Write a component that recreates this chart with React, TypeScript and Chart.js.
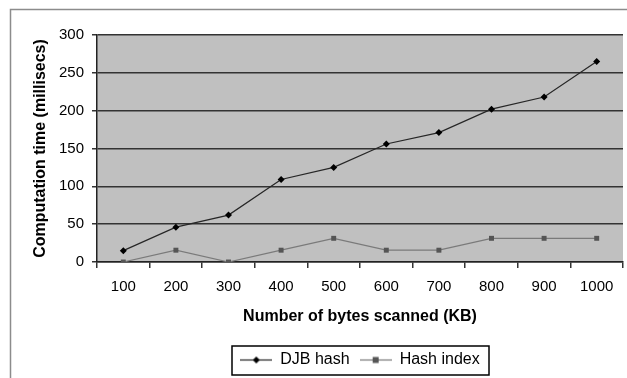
import React, { useEffect, useRef } from "react";
import { Chart, registerables } from "chart.js";

Chart.register(...registerables);

const categories = ["100", "200", "300", "400", "500", "600", "700", "800", "900", "1000"];
const djbHash = [15, 46, 62, 109, 125, 156, 171, 202, 218, 265];
const hashIndex = [0, 15.6, 0, 15.6, 31.3, 15.6, 15.6, 31.3, 31.3, 31.3];
const seriesNames = ["DJB hash", "Hash index"];
const yTitle = "Computation time (millisecs)";
const xTitle = "Number of bytes scanned (KB)";

const FONT = "'Liberation Sans', Arial, sans-serif";

function makeLegendIcon(color: string, markColor: string, shape: "diamond" | "square") {
  const c = document.createElement("canvas");
  c.width = 32;
  c.height = 9;
  const g = c.getContext("2d")!;
  g.strokeStyle = color;
  g.lineWidth = 1.2;
  g.beginPath();
  g.moveTo(0, 4.5);
  g.lineTo(32, 4.5);
  g.stroke();
  g.fillStyle = markColor;
  if (shape === "diamond") {
    g.beginPath();
    g.moveTo(16, 1);
    g.lineTo(19.5, 4.5);
    g.lineTo(16, 8);
    g.lineTo(12.5, 4.5);
    g.closePath();
    g.fill();
  } else {
    g.fillRect(13, 1.5, 6, 6);
  }
  return c;
}

const framePlugin = {
  id: "frame",
  beforeDraw(chart: any) {
    const { ctx, chartArea } = chart;
    ctx.save();
    ctx.fillStyle = "#ffffff";
    ctx.fillRect(0, 0, chart.width, chart.height);
    ctx.strokeStyle = "#8c8c8c";
    ctx.lineWidth = 1.5;
    ctx.beginPath();
    ctx.moveTo(10.5, chart.height);
    ctx.lineTo(10.5, 9.5);
    ctx.lineTo(chart.width, 9.5);
    ctx.stroke();
    ctx.fillStyle = "#c0c0c0";
    ctx.fillRect(chartArea.left, chartArea.top, chartArea.right - chartArea.left, chartArea.bottom - chartArea.top);
    ctx.restore();
  },
  afterDraw(chart: any) {
    const lg = chart.legend;
    if (!lg || !lg.legendHitBoxes || !lg.legendHitBoxes.length) return;
    const boxes = lg.legendHitBoxes;
    let l = Infinity, r = -Infinity, t = Infinity, b = -Infinity;
    boxes.forEach((h: any) => {
      l = Math.min(l, h.left);
      r = Math.max(r, h.left + h.width);
      t = Math.min(t, h.top);
      b = Math.max(b, h.top + h.height);
    });
    const cy = (t + b) / 2;
    const ctx = chart.ctx;
    ctx.save();
    ctx.strokeStyle = "#000000";
    ctx.lineWidth = 1.5;
    const x0 = Math.round(l - 8);
    const x1 = Math.round(r + 9);
    const y0 = Math.round(cy - 14);
    const y1 = Math.round(cy + 15);
    ctx.strokeRect(x0, y0, x1 - x0, y1 - y0);
    ctx.restore();
  },
};

export default function App() {
  const ref = useRef<HTMLCanvasElement | null>(null);
  useEffect(() => {
    const canvas = ref.current!;
    const icons = [
      makeLegendIcon("#222222", "#000000", "diamond"),
      makeLegendIcon("#777777", "#555555", "square"),
    ];
    const chart = new Chart(canvas, {
      type: "line",
      data: {
        labels: categories,
        datasets: [
          {
            label: seriesNames[0],
            data: djbHash,
            borderColor: "#262626",
            backgroundColor: "#000000",
            borderWidth: 1.2,
            pointStyle: "rectRot",
            pointRadius: 3.5,
            pointBorderWidth: 0,
            tension: 0,
          },
          {
            label: seriesNames[1],
            data: hashIndex,
            borderColor: "#7a7a7a",
            backgroundColor: "#555555",
            borderWidth: 1.2,
            pointStyle: "rect",
            pointRadius: 3.5,
            pointBorderWidth: 0,
            tension: 0,
          },
        ],
      },
      options: {
        responsive: false,
        animation: false,
        devicePixelRatio: 1,
        layout: { padding: { left: 0, top: 35, right: 1, bottom: 0 } },
        plugins: {
          tooltip: { enabled: false },
          legend: {
            display: true,
            position: "bottom",
            fullSize: false,
            labels: {
              color: "#000000",
              font: { family: FONT, size: 16 },
              usePointStyle: true,
              pointStyleWidth: 32,
              padding: 10,
              generateLabels: (ch: any) =>
                ch.data.datasets.map((ds: any, i: number) => ({
                  text: ds.label,
                  pointStyle: icons[i],
                  fillStyle: "transparent",
                  strokeStyle: "transparent",
                  lineWidth: 0,
                  hidden: false,
                  datasetIndex: i,
                  fontColor: "#000000",
                })),
            },
          },
        },
        scales: {
          x: {
            type: "category",
            offset: true,
            grid: {
              display: true,
              offset: true,
              drawOnChartArea: false,
              drawTicks: true,
              tickLength: 6,
              color: "#333333",
              lineWidth: 1.5,
            },
            border: { display: true, color: "#222222", width: 1.5 },
            ticks: { color: "#000000", font: { family: FONT, size: 15 }, padding: 10, maxRotation: 0, autoSkip: false },
            title: {
              display: true,
              text: xTitle,
              color: "#000000",
              font: { family: FONT, size: 16, weight: "bold" },
              padding: { top: 0, bottom: 15.5 },
            },
            afterFit: (s: any) => {
              s.height = 80;
            },
          },
          y: {
            min: 0,
            max: 300,
            ticks: { stepSize: 50, color: "#000000", font: { family: FONT, size: 15 }, padding: 8 },
            grid: {
              color: "#333333",
              lineWidth: 1.5,
              tickLength: 5,
              drawTicks: true,
            },
            border: { display: true, color: "#222222", width: 1.5 },
            title: {
              display: true,
              text: yTitle,
              color: "#000000",
              font: { family: FONT, size: 16, weight: "bold" },
              padding: { top: 31, bottom: 0 },
            },
            afterFit: (s: any) => {
              s.width = 97;
            },
          },
        },
      },
      plugins: [framePlugin],
    });
    return () => chart.destroy();
  }, []);
  return (
    <div style={{ position: "fixed", left: 0, top: 0, width: 627, height: 378 }}>
      <canvas ref={ref} width={627} height={378} style={{ width: 627, height: 378, display: "block" }} />
    </div>
  );
}
